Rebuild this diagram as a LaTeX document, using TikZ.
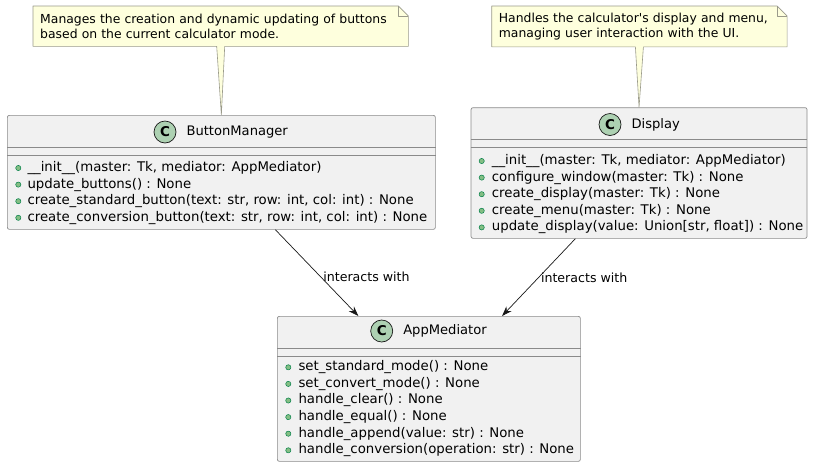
\documentclass[tikz,border=0pt]{standalone}
\usepackage{fontspec}
\setmainfont{DejaVu Sans}
\usetikzlibrary{arrows.meta,positioning,backgrounds}
\definecolor{classfill}{HTML}{F1F1F1}
\definecolor{classline}{HTML}{8A8A8A}
\definecolor{notefill}{HTML}{FEFFDD}
\definecolor{noteline}{HTML}{9A9A8A}
\definecolor{badgefill}{HTML}{ADD1B2}
\definecolor{dotfill}{HTML}{84BE84}
\definecolor{dotline}{HTML}{038048}
\definecolor{arrowline}{HTML}{181818}
\newcommand\methfont{\fontsize{13.3}{15}\selectfont}
\newcommand\notefont{\fontsize{12.4}{14.5}\selectfont}

\begin{document}
\begin{tikzpicture}[x=1pt,y=-1pt,
    classbox/.style={draw=classline, fill=classfill, rounded corners=2pt, line width=0.7pt, anchor=north west, inner sep=0pt},
    sepline/.style={draw=classline, line width=0.7pt},
    notebox/.style={anchor=north west, inner sep=7pt, text width=361pt, align=left, minimum height=40pt, font=\notefont},
    noteshape/.style={draw=noteline, fill=notefill, line width=0.6pt, line join=round},
    badge/.style={circle, draw=arrowline, fill=badgefill, line width=0.7pt, minimum size=22pt, inner sep=0pt, font=\fontsize{13.5}{13.5}\bfseries\selectfont},
    cname/.style={inner sep=0pt, font=\fontsize{13.1}{15}\selectfont},
    meth/.style={anchor=west, inner sep=0pt, font=\methfont},
    dot/.style={draw=dotline, fill=dotfill, line width=0.5pt},
    rel/.style={draw=arrowline, line width=0.7pt, -{Stealth[length=10pt,width=7pt]}},
    lbl/.style={inner sep=2pt, font=\fontsize{12.6}{14}\selectfont}]
    \useasboundingbox (0,0) rectangle (813,467);

    % classes
    \node[classbox, minimum width=428pt, minimum height=114pt] (bm) at (7,115) {};
    \node[classbox, minimum width=336pt, minimum height=130.7pt] (disp) at (470.7,107.3) {};
    \node[classbox, minimum width=303pt, minimum height=145pt] (am) at (277,316) {};
    \foreach \c in {bm,disp,am}{
        \draw[sepline] ([yshift=-32pt]\c.north west) -- ([yshift=-32pt]\c.north east)
            ([yshift=-40pt]\c.north west) -- ([yshift=-40pt]\c.north east);
    }

    % headers
    \node[badge] (bm-c) at (165,132) {C};
    \node[cname, right=10pt of bm-c] (bm-name) {ButtonManager};
    \node[badge] (disp-c) at (610,124.5) {C};
    \node[cname, right=10pt of disp-c] (disp-name) {Display};
    \node[badge] (am-c) at (381.7,331) {C};
    \node[cname, right=10pt of am-c] (am-name) {AppMediator};

    % methods
    \foreach \m [count=\i] in {{\_\_init\_\_(master: Tk, mediator: AppMediator)},
        {update\_buttons() : None},
        {create\_standard\_button(text: str, row: int, col: int) : None},
        {create\_conversion\_button(text: str, row: int, col: int) : None}}{
        \node[meth] (bm-m\i) at (27.3,151.4+16.6*\i) {\m};
        \draw[dot] ([xshift=-9pt]bm-m\i.west) circle (2.6pt);
    }
    \foreach \m [count=\i] in {{\_\_init\_\_(master: Tk, mediator: AppMediator)},
        {configure\_window(master: Tk) : None},
        {create\_display(master: Tk) : None},
        {create\_menu(master: Tk) : None},
        {update\_display(value: Union[str, float]) : None}}{
        \node[meth] (disp-m\i) at (491.7,144.4+16.6*\i) {\m};
        \draw[dot] ([xshift=-10pt]disp-m\i.west) circle (2.6pt);
    }
    \foreach \m [count=\i] in {{set\_standard\_mode() : None},
        {set\_convert\_mode() : None},
        {handle\_clear() : None},
        {handle\_equal() : None},
        {handle\_append(value: str) : None},
        {handle\_conversion(operation: str) : None}}{
        \node[meth] (am-m\i) at (298.3,350.7+16.6*\i) {\m};
        \draw[dot] ([xshift=-10pt]am-m\i.west) circle (2.6pt);
    }

    % notes
    \node[notebox] (bm-note) at (33,6) {Manages the creation and dynamic updating of buttons\\based on the current calculator mode.};
    \node[notebox, text width=281pt] (disp-note) at (491.7,6) {Handles the calculator{\textquotesingle}s display and menu,\\managing user interaction with the UI.};
    \begin{scope}[on background layer]
    \foreach \n/\c in {bm-note/bm,disp-note/disp}{
        \draw[noteshape] (\n.south west) -- (\n.north west) -- ([xshift=-10pt]\n.north east)
            -- ([yshift=-10pt]\n.north east) -- (\n.south east) -- ([xshift=4pt]\n.south)
            -- (\c.north) -- ([xshift=-4pt]\n.south) -- cycle;
        \draw[noteshape, fill=none] ([xshift=-10pt]\n.north east) |- ([yshift=-10pt]\n.north east);
    }
    \end{scope}

    % relations
    \draw[rel] ([xshift=54pt]bm.south) -- node[lbl, pos=0.55, right] {interacts with} ([xshift=-70.5pt]am.north);
    \draw[rel] ([xshift=-63.7pt]disp.south) -- node[lbl, pos=0.5, right] {interacts with} ([xshift=73.2pt]am.north);
\end{tikzpicture}
\end{document}
